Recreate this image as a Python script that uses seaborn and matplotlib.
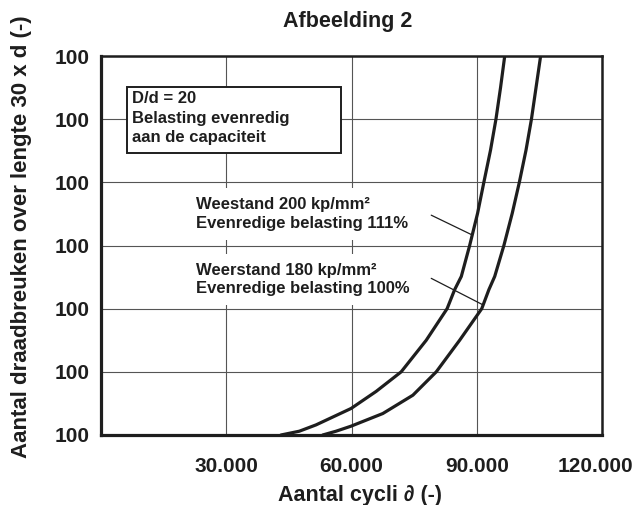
import matplotlib
matplotlib.use("Agg")
import matplotlib.pyplot as plt
import matplotlib.transforms as mtransforms
from matplotlib.patches import Rectangle
import seaborn as sns
import pandas as pd

# ---- data ----
cycles_200 = [43100, 47500, 51500, 59900, 65900, 71900, 77900, 82900, 84700, 86300, 88300,
              90200, 91700, 93300, 94600, 95700, 96700]
breaks_200 = [0.0, 0.06, 0.16, 0.42, 0.69, 1.0, 1.5, 2.0, 2.3, 2.51, 3.0,
              3.51, 4.0, 4.51, 5.0, 5.5, 6.0]
cycles_180 = [53100, 56300, 59900, 67500, 74700, 80300, 85900, 91200, 92900, 94300, 96500,
              98500, 100200, 101800, 103100, 104200, 105300]
breaks_180 = [0.0, 0.06, 0.14, 0.34, 0.63, 1.0, 1.5, 2.0, 2.3, 2.51, 3.0,
              3.51, 4.0, 4.51, 5.0, 5.5, 6.0]
x_ticks = [0, 30000, 60000, 90000, 120000]
x_tick_labels = ["", "30.000", "60.000", "90.000", "120.000"]
y_ticks = [0, 1, 2, 3, 4, 5, 6]
y_tick_labels = ["100"] * 7

df = pd.concat([
    pd.DataFrame({"cycli": cycles_200, "breuken": breaks_200, "serie": "200"}),
    pd.DataFrame({"cycli": cycles_180, "breuken": breaks_180, "serie": "180"}),
])

INK = "#1e1e1e"
sns.set_theme(style="white")
plt.rcParams["font.family"] = ["Liberation Sans", "DejaVu Sans"]
plt.rcParams["font.weight"] = "bold"

fig = plt.figure(figsize=(6.36, 5.05), dpi=100)
ax = fig.add_axes([101 / 636, 1 - 435 / 505, 501 / 636, 379 / 505])

sns.lineplot(data=df, x="cycli", y="breuken", units="serie", estimator=None,
             sort=False, color=INK, linewidth=2.3, ax=ax, legend=False, zorder=5)

ax.set_xlim(0, 120000)
ax.set_ylim(0, 6)
ax.set_xticks(x_ticks)
ax.set_xticklabels(x_tick_labels)
ax.set_yticks(y_ticks)
ax.set_yticklabels(y_tick_labels)
ax.grid(True, color="#555555", linewidth=0.8)
ax.set_axisbelow(True)
for s in ax.spines.values():
    s.set_visible(True)
    s.set_color(INK)
    s.set_linewidth(1.8)
    s.set_zorder(10)
ax.spines["left"].set_linewidth(2.3)
ax.spines["bottom"].set_linewidth(2.3)
ax.tick_params(axis="both", direction="out", length=5, width=1.3, color=INK,
               labelsize=15, labelcolor=INK, pad=3)
ax.tick_params(axis="x", pad=11)
for lab in ax.get_xticklabels() + ax.get_yticklabels():
    lab.set_fontweight("bold")
lab_last = ax.get_xticklabels()[-1]
lab_last.set_transform(lab_last.get_transform() + mtransforms.ScaledTranslation(-7 / 100, 0, fig.dpi_scale_trans))

ax.set_xlabel("")
ax.set_ylabel("")
fig.text(360 / 636, 1 - 501 / 505, "Aantal cycli \u2202 (-)", ha="center", va="baseline",
         fontsize=15.5, fontweight="bold", color=INK)
fig.text(22 / 636, 1 - 237 / 505, "Aantal draadbreuken over lengte 30 x d (-)", ha="center",
         va="center", rotation=90, fontsize=16, fontweight="bold", color=INK)
fig.text(348 / 636, 1 - 22 / 505, "Afbeelding 2", ha="center", va="center",
         fontsize=15.5, fontweight="bold", color=INK)

# info box
ax.add_patch(Rectangle((0.052, 0.744), 0.428, 0.174, transform=ax.transAxes,
                       facecolor="white", edgecolor=INK, linewidth=1.4, zorder=4))
for yy, txt in zip([0.889, 0.836, 0.786], ["D/d = 20", "Belasting evenredig", "aan de capaciteit"]):
    ax.text(0.062, yy, txt, transform=ax.transAxes, ha="left", va="center",
            fontsize=12, fontweight="bold", color=INK, zorder=6)

# curve labels
ax.text(0.19, 0.583, "Weestand 200 kp/mm\u00b2\nEvenredige belasting 111%", transform=ax.transAxes,
        ha="left", va="center", fontsize=12, fontweight="bold", color=INK, linespacing=1.3,
        zorder=4, bbox=dict(boxstyle="square,pad=0.55", facecolor="white", edgecolor="none"))
ax.text(0.19, 0.41, "Weerstand 180 kp/mm\u00b2\nEvenredige belasting 100%", transform=ax.transAxes,
        ha="left", va="center", fontsize=12, fontweight="bold", color=INK, linespacing=1.3,
        zorder=4, bbox=dict(boxstyle="square,pad=0.5", facecolor="white", edgecolor="none"))

# leader lines
ax.plot([79100, 88800], [3.48, 3.17], color=INK, linewidth=0.9, zorder=6)
ax.plot([79100, 91500], [2.48, 2.06], color=INK, linewidth=0.9, zorder=6)

fig.savefig("out.png", dpi=100, facecolor="white")
